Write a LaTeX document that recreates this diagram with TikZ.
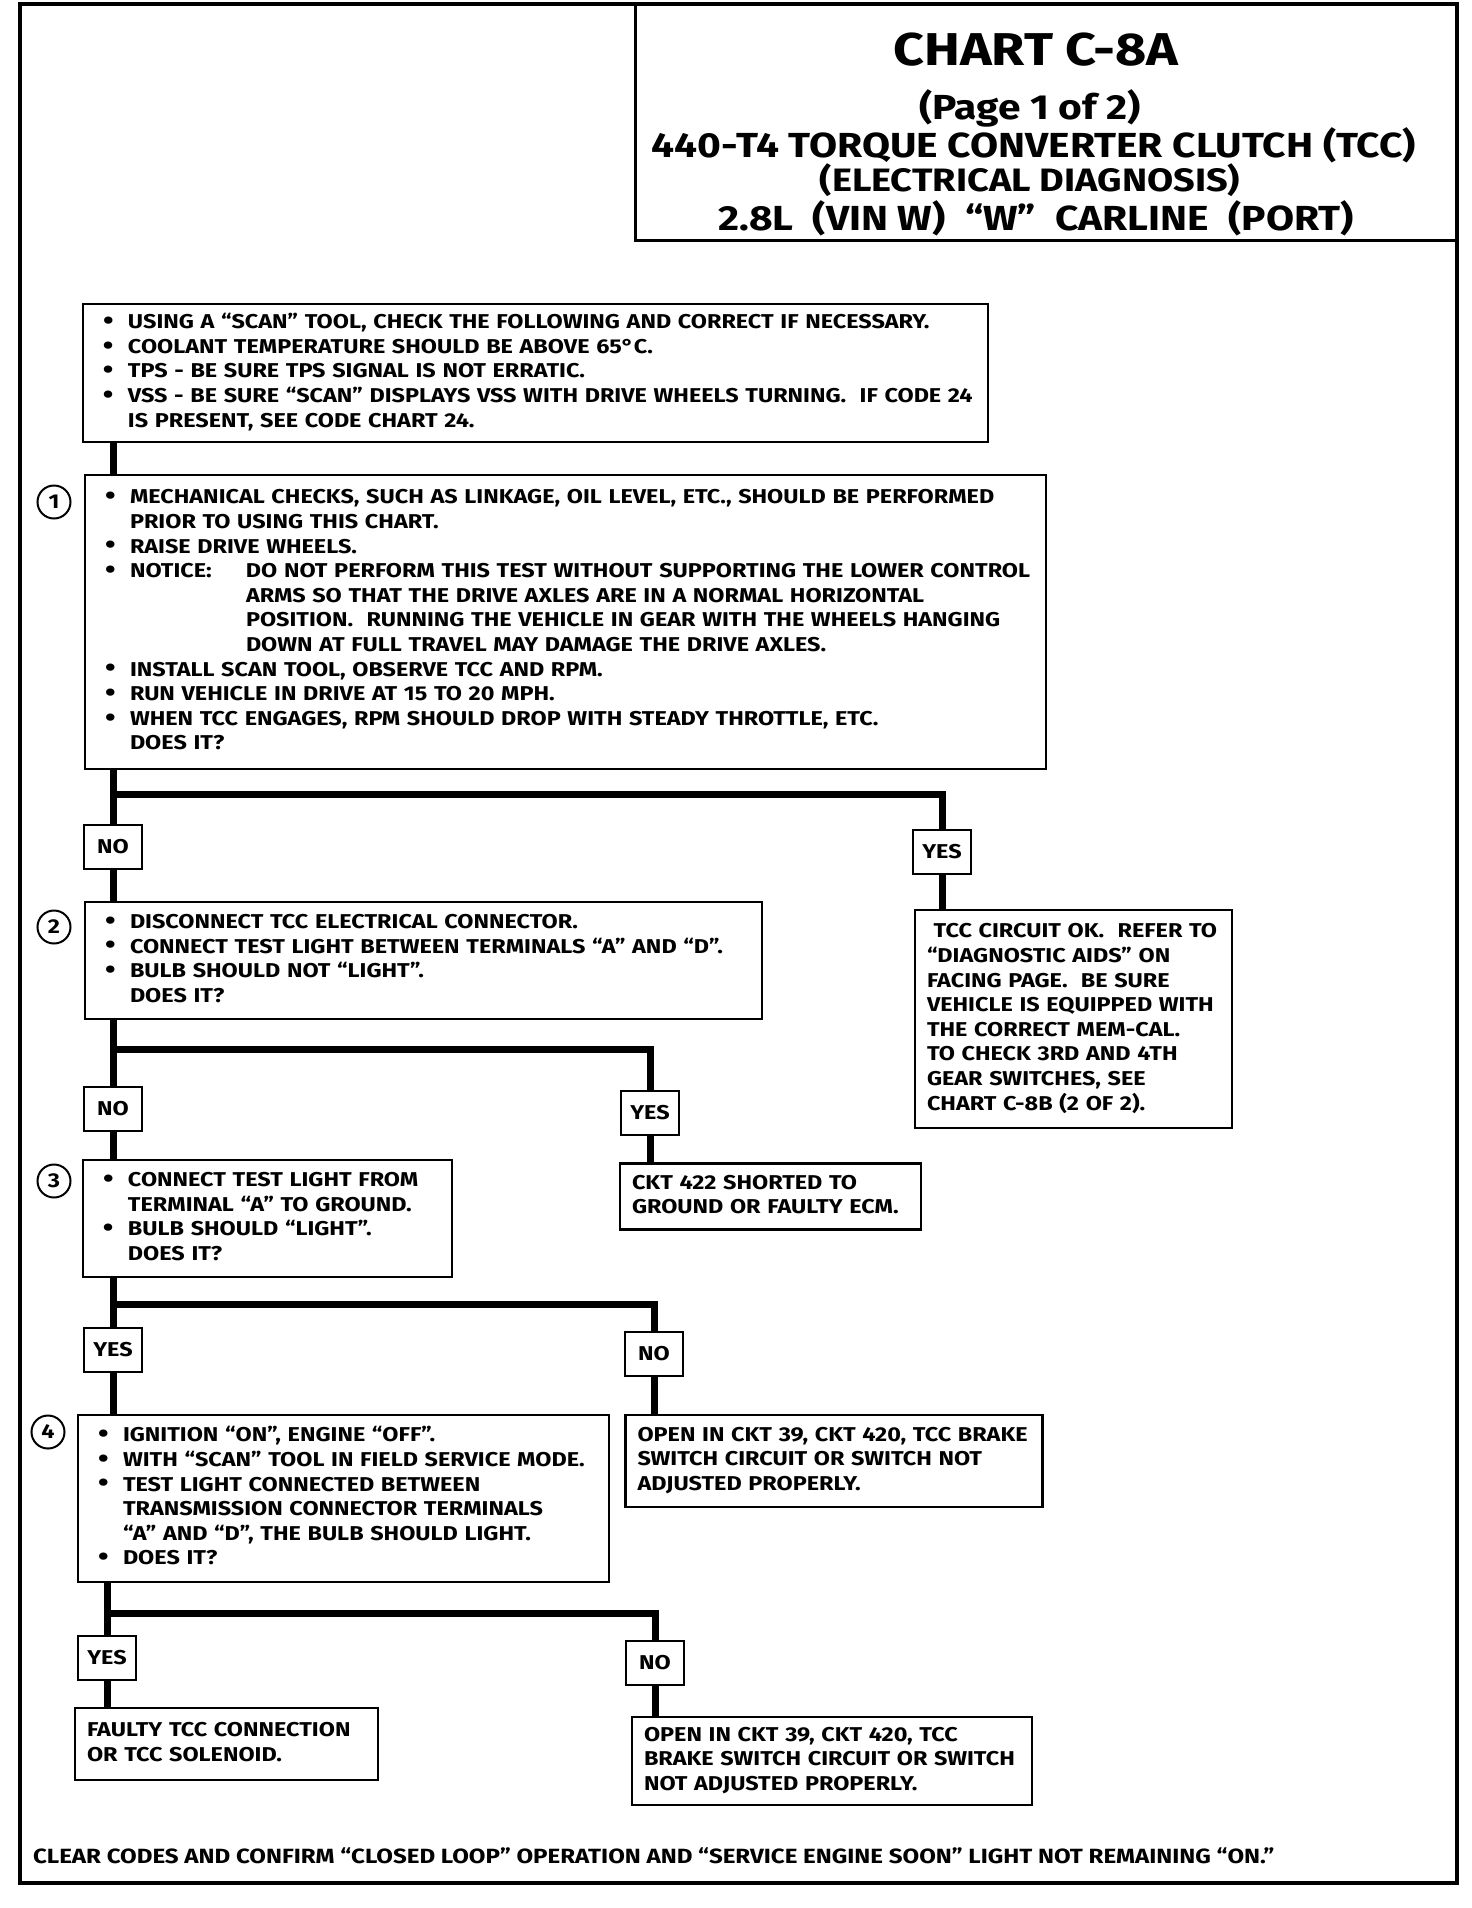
\documentclass[tikz,border=0pt]{standalone}
\usepackage{fontspec}
\setmainfont{Fira Sans}
\newfontfamily\chartfam{Fira Sans}[FakeStretch=1.17, Ligatures=TeX]
\newcommand{\chartfont}{\chartfam\fontsize{10}{12.3}\selectfont\bfseries}
\newcommand{\bul}{\makebox[12.5pt][l]{\raisebox{-0.4pt}{\scalebox{1.3}{\textbullet}}}}
\newcommand{\ind}{\makebox[12.5pt]{}}
\newcommand{\rows}[1]{\begin{tabular}{@{}l@{}}#1\end{tabular}}
\begin{document}
\begin{tikzpicture}[x=0.5pt, y=-0.5pt,
    box/.style={draw, line width=1.4pt, inner xsep=10pt, inner ysep=0pt, align=left, font=\chartfont},
    plain/.style={box, inner xsep=6pt},
    answer/.style={draw, line width=1.4pt, minimum width=29pt, minimum height=22pt, inner xsep=4pt, font=\chartfont},
    num/.style={circle, draw, line width=1pt, minimum size=16.5pt, inner sep=0pt, font=\chartfont},
    link/.style={line width=3.5pt},
    head/.style={anchor=base, font=\chartfam\fontsize{17.4}{20}\selectfont\bfseries}]
    \useasboundingbox (0,0) rectangle (1472,1908);
    \draw[line width=2pt] (20,4) rectangle (1457,1883);
    % heading
    \node[draw, line width=1.5pt, minimum width=411pt, minimum height=118pt] (headbox) at (1046,122) {};
    \node[head, font=\chartfam\fontsize{23}{26}\selectfont\bfseries] (chart) at (1036,65) {CHART C-8A};
    \node[head] (page) at (1030,119) {(Page 1 of 2)};
    \node[head] (subject) at (1034,157) {440-T4 TORQUE CONVERTER CLUTCH (TCC)};
    \node[head, font=\chartfam\fontsize{16.2}{19}\selectfont\bfseries] (diag) at (1030,191) {(ELECTRICAL DIAGNOSIS)};
    \node[head] (engine) at (1036,230) {2.8L\ \ (VIN W)\ \ “W”\ \ CARLINE\ \ (PORT)};
    % checks before starting
    \node[box, text width=432.5pt, minimum height=69pt] (check) at (535.5,373) {\rows{
        \bul USING A “SCAN” TOOL, CHECK THE FOLLOWING AND CORRECT IF NECESSARY.\\
        \bul COOLANT TEMPERATURE SHOULD BE ABOVE 65°C.\\
        \bul TPS - BE SURE TPS SIGNAL IS NOT ERRATIC.\\
        \bul VSS - BE SURE “SCAN” DISPLAYS VSS WITH DRIVE WHEELS TURNING.\ \ IF CODE 24\\
        \ind IS PRESENT, SEE CODE CHART 24.}};
    % step 1
    \node[box, text width=460.5pt, minimum height=147pt] (step1) at (565.5,622) {\rows{
        \bul MECHANICAL CHECKS, SUCH AS LINKAGE, OIL LEVEL, ETC., SHOULD BE PERFORMED\\
        \ind PRIOR TO USING THIS CHART.\\
        \bul RAISE DRIVE WHEELS.\\
        \bul \makebox[58pt][l]{NOTICE:}DO NOT PERFORM THIS TEST WITHOUT SUPPORTING THE LOWER CONTROL\\
        \ind\hspace{58pt}ARMS SO THAT THE DRIVE AXLES ARE IN A NORMAL HORIZONTAL\\
        \ind\hspace{58pt}POSITION.\ \ RUNNING THE VEHICLE IN GEAR WITH THE WHEELS HANGING\\
        \ind\hspace{58pt}DOWN AT FULL TRAVEL MAY DAMAGE THE DRIVE AXLES.\\
        \bul INSTALL SCAN TOOL, OBSERVE TCC AND RPM.\\
        \bul RUN VEHICLE IN DRIVE AT 15 TO 20 MPH.\\
        \bul WHEN TCC ENGAGES, RPM SHOULD DROP WITH STEADY THROTTLE, ETC.\\
        \ind DOES IT?}};
    \node[num] (num1) at (54,502) {1};
    \node[answer] (no1) at (113,847) {NO};
    \node[answer] (yes1) at (942,852) {YES};
    \node[plain, text width=146.5pt, minimum height=109pt] (okbox) at (1073.5,1019) {\rows{
        \ TCC CIRCUIT OK.\ \ REFER TO\\
        “DIAGNOSTIC AIDS” ON\\
        FACING PAGE.\ \ BE SURE\\
        VEHICLE IS EQUIPPED WITH\\
        THE CORRECT MEM-CAL.\\
        TO CHECK 3RD AND 4TH\\
        GEAR SWITCHES, SEE\\
        CHART C-8B (2 OF 2).}};
    % step 2
    \node[box, text width=318.5pt, minimum height=58.5pt] (step2) at (423.5,960.5) {\rows{
        \bul DISCONNECT TCC ELECTRICAL CONNECTOR.\\
        \bul CONNECT TEST LIGHT BETWEEN TERMINALS “A” AND “D”.\\
        \bul BULB SHOULD NOT “LIGHT”.\\
        \ind DOES IT?}};
    \node[num] (num2) at (54,927) {2};
    \node[answer] (no2) at (113,1109) {NO};
    \node[answer] (yes2) at (650,1113) {YES};
    \node[plain, text width=138.5pt, minimum height=33pt] (short) at (770.5,1196.5) {\rows{
        CKT 422 SHORTED TO\\
        GROUND OR FAULTY ECM.}};
    % step 3
    \node[box, text width=164.5pt, minimum height=58.5pt] (step3) at (267.5,1218.5) {\rows{
        \bul CONNECT TEST LIGHT FROM\\
        \ind TERMINAL “A” TO GROUND.\\
        \bul BULB SHOULD “LIGHT”.\\
        \ind DOES IT?}};
    \node[num] (num3) at (54,1181) {3};
    \node[answer] (yes3) at (113,1350) {YES};
    \node[answer] (no3) at (654,1354) {NO};
    \node[plain, text width=196.5pt, minimum height=46pt] (open1) at (834,1461) {\rows{
        OPEN IN CKT 39, CKT 420, TCC BRAKE\\
        SWITCH CIRCUIT OR SWITCH NOT\\
        ADJUSTED PROPERLY.}};
    % step 4
    \node[box, text width=245.5pt, minimum height=83.5pt] (step4) at (343.5,1498.5) {\rows{
        \bul IGNITION “ON”, ENGINE “OFF”.\\
        \bul WITH “SCAN” TOOL IN FIELD SERVICE MODE.\\
        \bul TEST LIGHT CONNECTED BETWEEN\\
        \ind TRANSMISSION CONNECTOR TERMINALS\\
        \ind “A” AND “D”, THE BULB SHOULD LIGHT.\\
        \bul DOES IT?}};
    \node[num] (num4) at (48,1432) {4};
    \node[answer] (yes4) at (107,1658) {YES};
    \node[answer] (no4) at (655,1663) {NO};
    \node[plain, text width=139.5pt, minimum height=36pt] (faulty) at (226.5,1744) {\rows{
        FAULTY TCC CONNECTION\\
        OR TCC SOLENOID.}};
    \node[plain, text width=188pt, minimum height=44pt] (open2) at (832,1761) {\rows{
        OPEN IN CKT 39, CKT 420, TCC\\
        BRAKE SWITCH CIRCUIT OR SWITCH\\
        NOT ADJUSTED PROPERLY.}};
    \node[anchor=base west, font=\chartfam\fontsize{10.3}{12.3}\selectfont\bfseries] (footer) at (26,1863)
        {CLEAR CODES AND CONFIRM “CLOSED LOOP” OPERATION AND “SERVICE ENGINE SOON” LIGHT NOT REMAINING “ON.”};
    % connectors
    \coordinate (fork1) at (113,794);
    \coordinate (fork2) at (113,1049);
    \coordinate (fork3) at (113,1304);
    \coordinate (fork4) at (107,1613);
    \draw[link] (no1 |- check.south) -- (no1 |- step1.north);
    \draw[link] (no1 |- step1.south) -- (no1.north);
    \draw[link] (fork1) -| (yes1.north);
    \draw[link] (no1.south) -- (no1 |- step2.north);
    \draw[link] (yes1.south) -- (yes1 |- okbox.north);
    \draw[link] (no2 |- step2.south) -- (no2.north);
    \draw[link] (fork2) -| (yes2.north);
    \draw[link] (no2.south) -- (no2 |- step3.north);
    \draw[link] (yes2.south) -- (yes2 |- short.north);
    \draw[link] (yes3 |- step3.south) -- (yes3.north);
    \draw[link] (fork3) -| (no3.north);
    \draw[link] (yes3.south) -- (yes3 |- step4.north);
    \draw[link] (no3.south) -- (no3 |- open1.north);
    \draw[link] (yes4 |- step4.south) -- (yes4.north);
    \draw[link] (fork4) -| (no4.north);
    \draw[link] (yes4.south) -- (yes4 |- faulty.north);
    \draw[link] (no4.south) -- (no4 |- open2.north);
\end{tikzpicture}
\end{document}
